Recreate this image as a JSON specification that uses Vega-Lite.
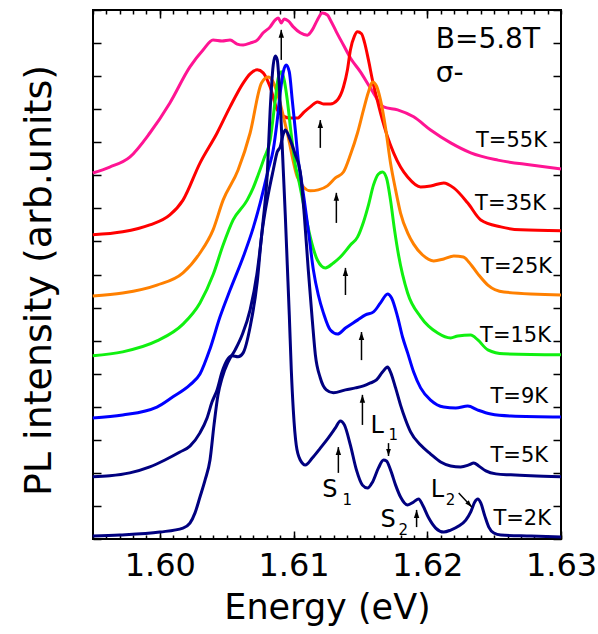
{
"$schema": "https://vega.github.io/schema/vega-lite/v6.json",
"width": 468, "height": 529,
"autosize": "none",
"padding": {"left": 93, "top": 10, "right": 37, "bottom": 95},
"background": "white",
"config": {"font": "DejaVu Sans", "view": {"stroke": "black", "strokeWidth": 2},
 "axis": {"grid": false, "domain": false, "tickColor": "black", "tickWidth": 1.5, "labelColor": "black", "titleColor": "black", "titleFontWeight": "normal"}},
"datasets": {
"curves": [
{"T":"55K","E":1.59498,"I":11.07},{"T":"55K","E":1.59625,"I":11.25},{"T":"55K","E":1.59775,"I":11.55},{"T":"55K","E":1.59925,"I":12.28},{"T":"55K","E":1.60075,"I":13.19},{"T":"55K","E":1.60225,"I":14.28},{"T":"55K","E":1.60323,"I":14.79},{"T":"55K","E":1.60398,"I":15.09},{"T":"55K","E":1.60465,"I":15.06},{"T":"55K","E":1.60525,"I":15.09},{"T":"55K","E":1.60578,"I":14.97},{"T":"55K","E":1.60623,"I":14.94},{"T":"55K","E":1.60675,"I":15.0},{"T":"55K","E":1.60728,"I":15.09},{"T":"55K","E":1.60773,"I":15.31},{"T":"55K","E":1.60825,"I":15.49},{"T":"55K","E":1.60863,"I":15.7},{"T":"55K","E":1.60885,"I":15.76},{"T":"55K","E":1.60908,"I":15.61},{"T":"55K","E":1.6093,"I":15.73},{"T":"55K","E":1.6096,"I":15.67},{"T":"55K","E":1.60998,"I":15.49},{"T":"55K","E":1.6105,"I":15.31},{"T":"55K","E":1.61103,"I":15.24},{"T":"55K","E":1.6114,"I":15.4},{"T":"55K","E":1.61178,"I":15.7},{"T":"55K","E":1.61215,"I":15.91},{"T":"55K","E":1.61253,"I":15.85},{"T":"55K","E":1.61275,"I":15.7},{"T":"55K","E":1.6132,"I":15.34},{"T":"55K","E":1.61373,"I":14.94},{"T":"55K","E":1.61425,"I":14.55},{"T":"55K","E":1.615,"I":14.13},{"T":"55K","E":1.61575,"I":13.64},{"T":"55K","E":1.61673,"I":13.07},{"T":"55K","E":1.61778,"I":12.98},{"T":"55K","E":1.61898,"I":12.77},{"T":"55K","E":1.62025,"I":12.37},{"T":"55K","E":1.62175,"I":11.98},{"T":"55K","E":1.62325,"I":11.68},{"T":"55K","E":1.62528,"I":11.46},{"T":"55K","E":1.62775,"I":11.31},{"T":"55K","E":1.63,"I":11.19},
{"T":"35K","E":1.59498,"I":9.2},{"T":"35K","E":1.59722,"I":9.29},{"T":"35K","E":1.59925,"I":9.5},{"T":"35K","E":1.60075,"I":9.8},{"T":"35K","E":1.60173,"I":10.25},{"T":"35K","E":1.603,"I":11.37},{"T":"35K","E":1.60428,"I":12.28},{"T":"35K","E":1.60525,"I":13.07},{"T":"35K","E":1.60623,"I":13.79},{"T":"35K","E":1.60675,"I":14.07},{"T":"35K","E":1.60728,"I":14.19},{"T":"35K","E":1.60773,"I":14.1},{"T":"35K","E":1.60825,"I":13.67},{"T":"35K","E":1.60878,"I":12.98},{"T":"35K","E":1.60923,"I":12.79},{"T":"35K","E":1.60975,"I":12.73},{"T":"35K","E":1.61028,"I":12.73},{"T":"35K","E":1.6108,"I":12.92},{"T":"35K","E":1.61125,"I":13.07},{"T":"35K","E":1.61178,"I":13.22},{"T":"35K","E":1.61223,"I":13.16},{"T":"35K","E":1.61275,"I":13.16},{"T":"35K","E":1.61328,"I":13.28},{"T":"35K","E":1.61373,"I":13.67},{"T":"35K","E":1.61403,"I":14.19},{"T":"35K","E":1.61425,"I":14.79},{"T":"35K","E":1.61455,"I":15.21},{"T":"35K","E":1.61478,"I":15.34},{"T":"35K","E":1.61508,"I":15.28},{"T":"35K","E":1.6153,"I":15.03},{"T":"35K","E":1.6156,"I":14.49},{"T":"35K","E":1.6159,"I":13.88},{"T":"35K","E":1.6162,"I":13.37},{"T":"35K","E":1.6165,"I":12.89},{"T":"35K","E":1.61703,"I":12.16},{"T":"35K","E":1.61748,"I":11.68},{"T":"35K","E":1.618,"I":11.25},{"T":"35K","E":1.61853,"I":10.95},{"T":"35K","E":1.6195,"I":10.65},{"T":"35K","E":1.62025,"I":10.68},{"T":"35K","E":1.62123,"I":10.77},{"T":"35K","E":1.62198,"I":10.62},{"T":"35K","E":1.62303,"I":10.16},{"T":"35K","E":1.624,"I":9.65},{"T":"35K","E":1.6255,"I":9.44},{"T":"35K","E":1.627,"I":9.35},{"T":"35K","E":1.63,"I":9.32},
{"T":"25K","E":1.59498,"I":7.35},{"T":"25K","E":1.59722,"I":7.44},{"T":"25K","E":1.59978,"I":7.68},{"T":"25K","E":1.60173,"I":8.05},{"T":"25K","E":1.603,"I":8.65},{"T":"25K","E":1.60398,"I":9.35},{"T":"25K","E":1.60473,"I":10.25},{"T":"25K","E":1.60585,"I":11.16},{"T":"25K","E":1.60675,"I":12.28},{"T":"25K","E":1.6076,"I":13.79},{"T":"25K","E":1.6081,"I":13.97},{"T":"25K","E":1.6084,"I":13.88},{"T":"25K","E":1.60878,"I":13.49},{"T":"25K","E":1.60953,"I":12.28},{"T":"25K","E":1.61028,"I":10.95},{"T":"25K","E":1.61073,"I":10.65},{"T":"25K","E":1.61125,"I":10.53},{"T":"25K","E":1.61185,"I":10.56},{"T":"25K","E":1.61253,"I":10.68},{"T":"25K","E":1.61313,"I":10.92},{"T":"25K","E":1.61373,"I":11.1},{"T":"25K","E":1.61425,"I":11.62},{"T":"25K","E":1.61478,"I":12.28},{"T":"25K","E":1.61523,"I":12.98},{"T":"25K","E":1.6156,"I":13.52},{"T":"25K","E":1.6159,"I":13.82},{"T":"25K","E":1.6162,"I":13.7},{"T":"25K","E":1.6165,"I":13.28},{"T":"25K","E":1.61688,"I":12.43},{"T":"25K","E":1.61725,"I":11.37},{"T":"25K","E":1.61763,"I":10.56},{"T":"25K","E":1.618,"I":9.86},{"T":"25K","E":1.61853,"I":9.26},{"T":"25K","E":1.61898,"I":8.92},{"T":"25K","E":1.61965,"I":8.59},{"T":"25K","E":1.62048,"I":8.41},{"T":"25K","E":1.62123,"I":8.47},{"T":"25K","E":1.62198,"I":8.56},{"T":"25K","E":1.6227,"I":8.53},{"T":"25K","E":1.6231,"I":8.38},{"T":"25K","E":1.62378,"I":8.02},{"T":"25K","E":1.62453,"I":7.68},{"T":"25K","E":1.62573,"I":7.47},{"T":"25K","E":1.63,"I":7.38},
{"T":"15K","E":1.59498,"I":5.54},{"T":"15K","E":1.59722,"I":5.66},{"T":"15K","E":1.59978,"I":5.99},{"T":"15K","E":1.60173,"I":6.5},{"T":"15K","E":1.603,"I":7.14},{"T":"15K","E":1.60398,"I":7.99},{"T":"15K","E":1.60473,"I":8.89},{"T":"15K","E":1.60548,"I":9.65},{"T":"15K","E":1.60653,"I":10.25},{"T":"15K","E":1.60698,"I":10.62},{"T":"15K","E":1.60735,"I":11.01},{"T":"15K","E":1.6078,"I":11.52},{"T":"15K","E":1.60825,"I":12.07},{"T":"15K","E":1.60863,"I":13.28},{"T":"15K","E":1.60885,"I":13.94},{"T":"15K","E":1.60908,"I":14.13},{"T":"15K","E":1.6093,"I":13.88},{"T":"15K","E":1.60953,"I":13.28},{"T":"15K","E":1.60983,"I":12.22},{"T":"15K","E":1.61013,"I":11.31},{"T":"15K","E":1.61035,"I":10.92},{"T":"15K","E":1.61073,"I":10.16},{"T":"15K","E":1.61125,"I":9.13},{"T":"15K","E":1.61178,"I":8.44},{"T":"15K","E":1.61238,"I":8.2},{"T":"15K","E":1.61298,"I":8.35},{"T":"15K","E":1.6135,"I":8.53},{"T":"15K","E":1.61425,"I":8.89},{"T":"15K","E":1.61478,"I":9.13},{"T":"15K","E":1.61523,"I":9.59},{"T":"15K","E":1.6156,"I":10.1},{"T":"15K","E":1.61598,"I":10.71},{"T":"15K","E":1.61635,"I":11.04},{"T":"15K","E":1.61665,"I":11.1},{"T":"15K","E":1.61695,"I":10.92},{"T":"15K","E":1.61725,"I":10.25},{"T":"15K","E":1.61755,"I":9.35},{"T":"15K","E":1.61785,"I":8.59},{"T":"15K","E":1.61853,"I":7.44},{"T":"15K","E":1.6195,"I":6.72},{"T":"15K","E":1.62078,"I":6.23},{"T":"15K","E":1.62175,"I":6.08},{"T":"15K","E":1.62228,"I":6.14},{"T":"15K","E":1.62325,"I":6.17},{"T":"15K","E":1.62378,"I":6.02},{"T":"15K","E":1.62453,"I":5.72},{"T":"15K","E":1.62573,"I":5.6},{"T":"15K","E":1.63,"I":5.57},
{"T":"9K","E":1.59498,"I":3.66},{"T":"9K","E":1.59722,"I":3.75},{"T":"9K","E":1.59978,"I":3.99},{"T":"9K","E":1.60098,"I":4.3},{"T":"9K","E":1.60225,"I":4.66},{"T":"9K","E":1.603,"I":4.99},{"T":"9K","E":1.60375,"I":5.75},{"T":"9K","E":1.6045,"I":6.72},{"T":"9K","E":1.60525,"I":7.53},{"T":"9K","E":1.60623,"I":8.53},{"T":"9K","E":1.60698,"I":9.41},{"T":"9K","E":1.6075,"I":10.16},{"T":"9K","E":1.6081,"I":11.16},{"T":"9K","E":1.60848,"I":11.77},{"T":"9K","E":1.60878,"I":12.67},{"T":"9K","E":1.609,"I":13.49},{"T":"9K","E":1.60923,"I":14.13},{"T":"9K","E":1.60945,"I":14.34},{"T":"9K","E":1.60968,"I":14.13},{"T":"9K","E":1.6099,"I":13.28},{"T":"9K","E":1.61013,"I":12.37},{"T":"9K","E":1.61035,"I":11.46},{"T":"9K","E":1.61058,"I":10.86},{"T":"9K","E":1.6108,"I":10.25},{"T":"9K","E":1.6111,"I":9.35},{"T":"9K","E":1.61148,"I":8.14},{"T":"9K","E":1.61185,"I":7.38},{"T":"9K","E":1.61223,"I":6.84},{"T":"9K","E":1.61275,"I":6.32},{"T":"9K","E":1.61328,"I":6.2},{"T":"9K","E":1.61388,"I":6.38},{"T":"9K","E":1.61478,"I":6.62},{"T":"9K","E":1.61538,"I":6.78},{"T":"9K","E":1.61598,"I":6.87},{"T":"9K","E":1.6165,"I":7.14},{"T":"9K","E":1.61703,"I":7.41},{"T":"9K","E":1.61733,"I":7.29},{"T":"9K","E":1.61778,"I":6.72},{"T":"9K","E":1.61815,"I":6.11},{"T":"9K","E":1.61853,"I":5.63},{"T":"9K","E":1.61898,"I":5.05},{"T":"9K","E":1.6195,"I":4.57},{"T":"9K","E":1.62025,"I":4.2},{"T":"9K","E":1.62123,"I":3.99},{"T":"9K","E":1.62213,"I":3.96},{"T":"9K","E":1.62303,"I":4.02},{"T":"9K","E":1.62378,"I":3.9},{"T":"9K","E":1.62475,"I":3.78},{"T":"9K","E":1.62625,"I":3.72},{"T":"9K","E":1.63,"I":3.69},
{"T":"5K","E":1.59498,"I":1.88},{"T":"5K","E":1.59625,"I":1.91},{"T":"5K","E":1.59775,"I":2.0},{"T":"5K","E":1.59925,"I":2.18},{"T":"5K","E":1.60038,"I":2.39},{"T":"5K","E":1.6015,"I":2.63},{"T":"5K","E":1.60225,"I":2.81},{"T":"5K","E":1.603,"I":3.21},{"T":"5K","E":1.60353,"I":3.66},{"T":"5K","E":1.6039,"I":4.14},{"T":"5K","E":1.60428,"I":4.51},{"T":"5K","E":1.60465,"I":5.05},{"T":"5K","E":1.60503,"I":5.41},{"T":"5K","E":1.6054,"I":5.54},{"T":"5K","E":1.60585,"I":5.51},{"T":"5K","E":1.60623,"I":5.63},{"T":"5K","E":1.60675,"I":6.41},{"T":"5K","E":1.60728,"I":7.77},{"T":"5K","E":1.6076,"I":9.13},{"T":"5K","E":1.6081,"I":10.41},{"T":"5K","E":1.60848,"I":11.16},{"T":"5K","E":1.60878,"I":11.71},{"T":"5K","E":1.609,"I":11.86},{"T":"5K","E":1.60923,"I":12.25},{"T":"5K","E":1.60938,"I":12.37},{"T":"5K","E":1.60975,"I":12.07},{"T":"5K","E":1.61013,"I":11.62},{"T":"5K","E":1.6105,"I":11.1},{"T":"5K","E":1.6108,"I":9.8},{"T":"5K","E":1.6111,"I":8.14},{"T":"5K","E":1.6114,"I":6.62},{"T":"5K","E":1.61163,"I":5.57},{"T":"5K","E":1.612,"I":4.87},{"T":"5K","E":1.61245,"I":4.51},{"T":"5K","E":1.61298,"I":4.42},{"T":"5K","E":1.61388,"I":4.51},{"T":"5K","E":1.61463,"I":4.57},{"T":"5K","E":1.61523,"I":4.63},{"T":"5K","E":1.61575,"I":4.72},{"T":"5K","E":1.6162,"I":4.81},{"T":"5K","E":1.61665,"I":5.05},{"T":"5K","E":1.61703,"I":5.2},{"T":"5K","E":1.61725,"I":5.05},{"T":"5K","E":1.61763,"I":4.57},{"T":"5K","E":1.618,"I":4.05},{"T":"5K","E":1.61838,"I":3.6},{"T":"5K","E":1.61875,"I":3.24},{"T":"5K","E":1.6195,"I":2.84},{"T":"5K","E":1.62025,"I":2.57},{"T":"5K","E":1.621,"I":2.33},{"T":"5K","E":1.62175,"I":2.21},{"T":"5K","E":1.6225,"I":2.18},{"T":"5K","E":1.6231,"I":2.24},{"T":"5K","E":1.62348,"I":2.3},{"T":"5K","E":1.62385,"I":2.21},{"T":"5K","E":1.62438,"I":2.06},{"T":"5K","E":1.62513,"I":1.97},{"T":"5K","E":1.62625,"I":1.94},{"T":"5K","E":1.62775,"I":1.91},{"T":"5K","E":1.63,"I":1.88},
{"T":"2K","E":1.59498,"I":0.09},{"T":"2K","E":1.597,"I":0.12},{"T":"2K","E":1.6,"I":0.21},{"T":"2K","E":1.60173,"I":0.33},{"T":"2K","E":1.60225,"I":0.48},{"T":"2K","E":1.60263,"I":0.79},{"T":"2K","E":1.603,"I":1.27},{"T":"2K","E":1.60338,"I":1.78},{"T":"2K","E":1.60375,"I":2.39},{"T":"2K","E":1.60405,"I":3.45},{"T":"2K","E":1.60435,"I":4.36},{"T":"2K","E":1.60465,"I":4.87},{"T":"2K","E":1.6051,"I":5.35},{"T":"2K","E":1.60563,"I":5.72},{"T":"2K","E":1.60615,"I":6.17},{"T":"2K","E":1.60675,"I":6.93},{"T":"2K","E":1.60728,"I":8.08},{"T":"2K","E":1.60773,"I":9.65},{"T":"2K","E":1.60803,"I":11.01},{"T":"2K","E":1.60825,"I":12.98},{"T":"2K","E":1.60848,"I":14.34},{"T":"2K","E":1.60863,"I":14.61},{"T":"2K","E":1.60878,"I":14.49},{"T":"2K","E":1.60893,"I":13.73},{"T":"2K","E":1.60908,"I":12.52},{"T":"2K","E":1.60923,"I":11.16},{"T":"2K","E":1.60938,"I":9.8},{"T":"2K","E":1.60953,"I":8.29},{"T":"2K","E":1.60968,"I":6.78},{"T":"2K","E":1.60983,"I":5.11},{"T":"2K","E":1.60998,"I":3.9},{"T":"2K","E":1.6102,"I":2.84},{"T":"2K","E":1.6105,"I":2.39},{"T":"2K","E":1.61088,"I":2.24},{"T":"2K","E":1.6114,"I":2.45},{"T":"2K","E":1.612,"I":2.75},{"T":"2K","E":1.6126,"I":3.06},{"T":"2K","E":1.61313,"I":3.36},{"T":"2K","E":1.6135,"I":3.57},{"T":"2K","E":1.6138,"I":3.45},{"T":"2K","E":1.61425,"I":2.84},{"T":"2K","E":1.6147,"I":2.09},{"T":"2K","E":1.61515,"I":1.63},{"T":"2K","E":1.61553,"I":1.54},{"T":"2K","E":1.6159,"I":1.72},{"T":"2K","E":1.61635,"I":2.15},{"T":"2K","E":1.61673,"I":2.39},{"T":"2K","E":1.61695,"I":2.36},{"T":"2K","E":1.61725,"I":2.09},{"T":"2K","E":1.61763,"I":1.63},{"T":"2K","E":1.618,"I":1.27},{"T":"2K","E":1.61853,"I":1.03},{"T":"2K","E":1.61898,"I":1.12},{"T":"2K","E":1.61935,"I":1.21},{"T":"2K","E":1.61965,"I":1.03},{"T":"2K","E":1.6201,"I":0.64},{"T":"2K","E":1.62063,"I":0.33},{"T":"2K","E":1.62123,"I":0.21},{"T":"2K","E":1.62175,"I":0.27},{"T":"2K","E":1.62235,"I":0.39},{"T":"2K","E":1.62288,"I":0.57},{"T":"2K","E":1.62325,"I":0.82},{"T":"2K","E":1.62355,"I":1.12},{"T":"2K","E":1.62378,"I":1.21},{"T":"2K","E":1.624,"I":1.09},{"T":"2K","E":1.6243,"I":0.7},{"T":"2K","E":1.6246,"I":0.36},{"T":"2K","E":1.62498,"I":0.18},{"T":"2K","E":1.6255,"I":0.12},{"T":"2K","E":1.62775,"I":0.09},{"T":"2K","E":1.63,"I":0.06}
],
"arrowsUp": [
{"E":1.60908,"v1":14.49,"v2":15.4},{"E":1.612,"v1":11.83,"v2":12.67},{"E":1.6132,"v1":9.56,"v2":10.47},{"E":1.61388,"v1":7.38,"v2":8.2},{"E":1.61508,"v1":5.41,"v2":6.26},{"E":1.61515,"v1":3.45,"v2":4.36},{"E":1.61335,"v1":2.0,"v2":2.78},{"E":1.6192,"v1":0.36,"v2":0.88}
],
"arrowsDown": [{"E":1.6171,"v1":2.9,"v2":2.51}],
"arrowsDiag": [{"E":1.62235,"v":1.39,"E2":1.62333,"v2":0.97}],
"labelsT": [
{"t":"T=55K","E":1.62895,"v":11.86},{"t":"T=35K","E":1.62888,"v":9.95},{"t":"T=25K","E":1.62933,"v":8.05},{"t":"T=15K","E":1.62925,"v":5.96},{"t":"T=9K","E":1.62903,"v":4.11},{"t":"T=5K","E":1.62903,"v":2.33},{"t":"T=2K","E":1.62925,"v":0.42}
],
"labelsB": [{"t":"B=5.8T","E":1.62063,"v":14.85},{"t":"σ-","E":1.62063,"v":13.82}],
"labelsSL": [{"t":"S","E":1.61215,"v":1.27},{"t":"L","E":1.61575,"v":3.21},{"t":"S","E":1.6165,"v":0.36},{"t":"L","E":1.62025,"v":1.27}],
"labelsSub": [{"t":"1","E":1.61365,"v":1.03},{"t":"1","E":1.6171,"v":2.99},{"t":"2","E":1.61785,"v":0.12},{"t":"2","E":1.62138,"v":1.03}]
},
"resolve": {"axis": {"x": "independent", "y": "independent"}},
"layer": [
{"data": {"name": "curves"},
 "mark": {"type": "line", "strokeWidth": 3, "interpolate": "monotone"},
 "encoding": {
  "x": {"field": "E", "type": "quantitative", "scale": {"domain": [1.595, 1.63], "nice": false, "zero": false},
    "axis": {"orient": "bottom", "values": [1.6, 1.61, 1.62, 1.63], "format": ".2f", "tickSize": -8, "labelFontSize": 32, "labelBaseline": "alphabetic", "labelPadding": 44, "labelFlush": false, "labelOverlap": false,
      "title": "Energy (eV)", "titleFontSize": 35, "titleBaseline": "alphabetic", "titleY": 79}},
  "y": {"field": "I", "type": "quantitative", "scale": {"domain": [0, 16], "nice": false, "zero": false},
    "axis": {"orient": "left", "values": [0,1,2,3,4,5,6,7,8,9,10,11,12,13,14,15,16], "tickSize": -8, "labels": false,
      "title": "PL intensity (arb.units)", "titleFontSize": 38, "titleAngle": -90, "titleX": -43, "titleY": 270, "titleAlign": "center", "titleBaseline": "alphabetic"}},
  "color": {"field": "T", "type": "nominal", "legend": null,
    "scale": {"domain": ["55K","35K","25K","15K","9K","5K","2K"], "range": ["#ff1493","#ff0000","#ff8000","#10f010","#0000ff","#000080","#000080"]}}
 }},
{"data": {"name": "arrowsUp"},
 "mark": {"type": "rule", "color": "black", "strokeWidth": 1.5},
 "encoding": {
  "x": {"field": "E", "type": "quantitative", "scale": {"domain": [1.595, 1.63], "nice": false, "zero": false},
    "axis": {"orient": "bottom", "values": [1.595,1.596,1.597,1.598,1.599,1.6,1.601,1.602,1.603,1.604,1.605,1.606,1.607,1.608,1.609,1.61,1.611,1.612,1.613,1.614,1.615,1.616,1.617,1.618,1.619,1.62,1.621,1.622,1.623,1.624,1.625,1.626,1.627,1.628,1.629,1.63], "tickSize": -4, "labels": false, "title": null}},
  "y": {"field": "v1", "type": "quantitative", "scale": {"domain": [0, 16], "nice": false, "zero": false},
    "axis": {"orient": "right", "values": [0,1,2,3,4,5,6,7,8,9,10,11,12,13,14,15,16], "tickSize": -8, "labels": false, "title": null}},
  "y2": {"field": "v2"}
 }},
{"data": {"name": "arrowsUp"},
 "mark": {"type": "point", "shape": "M0,0L-0.34,1L0.34,1Z", "filled": true, "color": "black", "size": 256, "opacity": 1, "strokeWidth": 0},
 "encoding": {
  "x": {"field": "E", "type": "quantitative", "scale": {"domain": [1.595, 1.63], "nice": false, "zero": false},
    "axis": {"orient": "top", "values": [1.6, 1.61, 1.62], "tickSize": -8, "labels": false, "title": null}},
  "y": {"field": "v2", "type": "quantitative", "scale": {"domain": [0, 16], "nice": false, "zero": false}, "axis": null}
 }},
{"data": {"name": "arrowsDown"},
 "mark": {"type": "rule", "color": "black", "strokeWidth": 1.5},
 "encoding": {
  "x": {"field": "E", "type": "quantitative", "scale": {"domain": [1.595, 1.63], "nice": false, "zero": false},
    "axis": {"orient": "top", "values": [1.595,1.596,1.597,1.598,1.599,1.6,1.601,1.602,1.603,1.604,1.605,1.606,1.607,1.608,1.609,1.61,1.611,1.612,1.613,1.614,1.615,1.616,1.617,1.618,1.619,1.62,1.621,1.622,1.623,1.624,1.625,1.626,1.627,1.628,1.629,1.63], "tickSize": -4, "labels": false, "title": null}},
  "y": {"field": "v1", "type": "quantitative", "scale": {"domain": [0, 16], "nice": false, "zero": false}, "axis": null},
  "y2": {"field": "v2"}
 }},
{"data": {"name": "arrowsDown"},
 "mark": {"type": "point", "shape": "M0,0L-0.34,-1L0.34,-1Z", "filled": true, "color": "black", "size": 196, "opacity": 1, "strokeWidth": 0},
 "encoding": {
  "x": {"field": "E", "type": "quantitative", "scale": {"domain": [1.595, 1.63], "nice": false, "zero": false}, "axis": null},
  "y": {"field": "v2", "type": "quantitative", "scale": {"domain": [0, 16], "nice": false, "zero": false}, "axis": null}
 }},
{"data": {"name": "arrowsDiag"},
 "mark": {"type": "rule", "color": "black", "strokeWidth": 1.5},
 "encoding": {
  "x": {"field": "E", "type": "quantitative", "scale": {"domain": [1.595, 1.63], "nice": false, "zero": false}, "axis": null},
  "y": {"field": "v", "type": "quantitative", "scale": {"domain": [0, 16], "nice": false, "zero": false}, "axis": null},
  "x2": {"field": "E2"},
  "y2": {"field": "v2"}
 }},
{"data": {"name": "arrowsDiag"},
 "mark": {"type": "point", "shape": "M0,0L-0.34,1L0.34,1Z", "filled": true, "color": "black", "size": 196, "opacity": 1, "strokeWidth": 0, "angle": 137},
 "encoding": {
  "x": {"field": "E2", "type": "quantitative", "scale": {"domain": [1.595, 1.63], "nice": false, "zero": false}, "axis": null},
  "y": {"field": "v2", "type": "quantitative", "scale": {"domain": [0, 16], "nice": false, "zero": false}, "axis": null}
 }},
{"data": {"name": "labelsT"},
 "mark": {"type": "text", "fontSize": 21, "align": "right", "baseline": "alphabetic", "color": "black"},
 "encoding": {
  "x": {"field": "E", "type": "quantitative", "scale": {"domain": [1.595, 1.63], "nice": false, "zero": false}, "axis": null},
  "y": {"field": "v", "type": "quantitative", "scale": {"domain": [0, 16], "nice": false, "zero": false}, "axis": null},
  "text": {"field": "t"}
 }},
{"data": {"name": "labelsB"},
 "mark": {"type": "text", "fontSize": 28, "align": "left", "baseline": "alphabetic", "color": "black"},
 "encoding": {
  "x": {"field": "E", "type": "quantitative", "scale": {"domain": [1.595, 1.63], "nice": false, "zero": false}, "axis": null},
  "y": {"field": "v", "type": "quantitative", "scale": {"domain": [0, 16], "nice": false, "zero": false}, "axis": null},
  "text": {"field": "t"}
 }},
{"data": {"name": "labelsSL"},
 "mark": {"type": "text", "fontSize": 24, "align": "left", "baseline": "alphabetic", "color": "black"},
 "encoding": {
  "x": {"field": "E", "type": "quantitative", "scale": {"domain": [1.595, 1.63], "nice": false, "zero": false}, "axis": null},
  "y": {"field": "v", "type": "quantitative", "scale": {"domain": [0, 16], "nice": false, "zero": false}, "axis": null},
  "text": {"field": "t"}
 }},
{"data": {"name": "labelsSub"},
 "mark": {"type": "text", "fontSize": 15, "align": "left", "baseline": "alphabetic", "color": "black"},
 "encoding": {
  "x": {"field": "E", "type": "quantitative", "scale": {"domain": [1.595, 1.63], "nice": false, "zero": false}, "axis": null},
  "y": {"field": "v", "type": "quantitative", "scale": {"domain": [0, 16], "nice": false, "zero": false}, "axis": null},
  "text": {"field": "t"}
 }}
]
}
